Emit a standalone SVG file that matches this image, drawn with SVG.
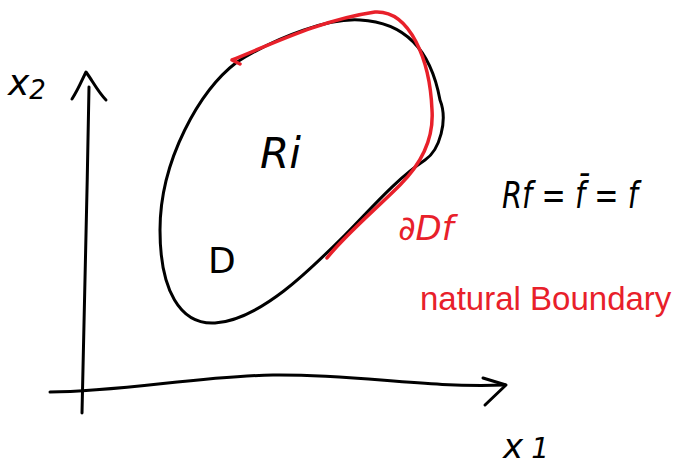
<svg xmlns="http://www.w3.org/2000/svg" width="682" height="469" viewBox="0 0 682 469">
<style>
.ink{fill:none;stroke:#000;stroke-width:3;stroke-linecap:round;stroke-linejoin:round}
.red{fill:none;stroke:#e8202a;stroke-width:3.5;stroke-linecap:round;stroke-linejoin:round}
.tb{font-family:"DejaVu Sans",sans-serif;fill:#000}
.tr{font-family:"DejaVu Sans",sans-serif;fill:#e8202a}
</style>
<rect width="682" height="469" fill="#fff"/>
<g id="axes">
<path class="ink" d="M82 413 C84 330 87 200 89 87"/>
<path class="ink" d="M72 99 C78 90 82 80 86 72 C92 80 98 92 106 100"/>
<path class="ink" d="M50 392 C120 392 200 376 273 375 C360 374 420 388 505 385"/>
<path class="ink" d="M483 378 L506 385 L485 405"/>
</g>
<g id="region-D">
<path class="ink" d="M237 62 C280 35 330 18 360 20 C400 22 430 45 440 100 C448 120 440 150 425 160 C395 180 370 210 345 235 C310 270 260 320 215 323 C180 325 160 290 160 230 C160 160 200 90 237 62 Z"/>
</g>
<g id="boundary">
<path class="red" d="M240 64 L232 60 C270 45 320 20 375 12 C410 10 430 60 432 110 C434 140 420 165 400 185 C375 210 345 235 327 258"/>
</g>
<g id="labels">
<text class="tb" x="8" y="95" font-size="36" font-style="italic">x<tspan font-size="26" dy="4">2</tspan></text>
<text class="tb" x="503" y="458" font-size="34" font-style="italic">x<tspan dx="8" font-size="28">1</tspan></text>
<text class="tb" x="260" y="168" font-size="42" font-style="italic">Ri</text>
<text class="tb" x="208" y="273" font-size="36">D</text>
<text class="tb" x="502" y="208" font-size="38" font-style="italic" textLength="136" lengthAdjust="spacingAndGlyphs">Rf = f̄ = f</text>
<text class="tr" x="398" y="240" font-size="34" font-style="italic">∂Df</text>
<text class="tr" x="420" y="310" font-size="33" style="font-family:'Liberation Sans',sans-serif">natural Boundary</text>
</g>
</svg>
